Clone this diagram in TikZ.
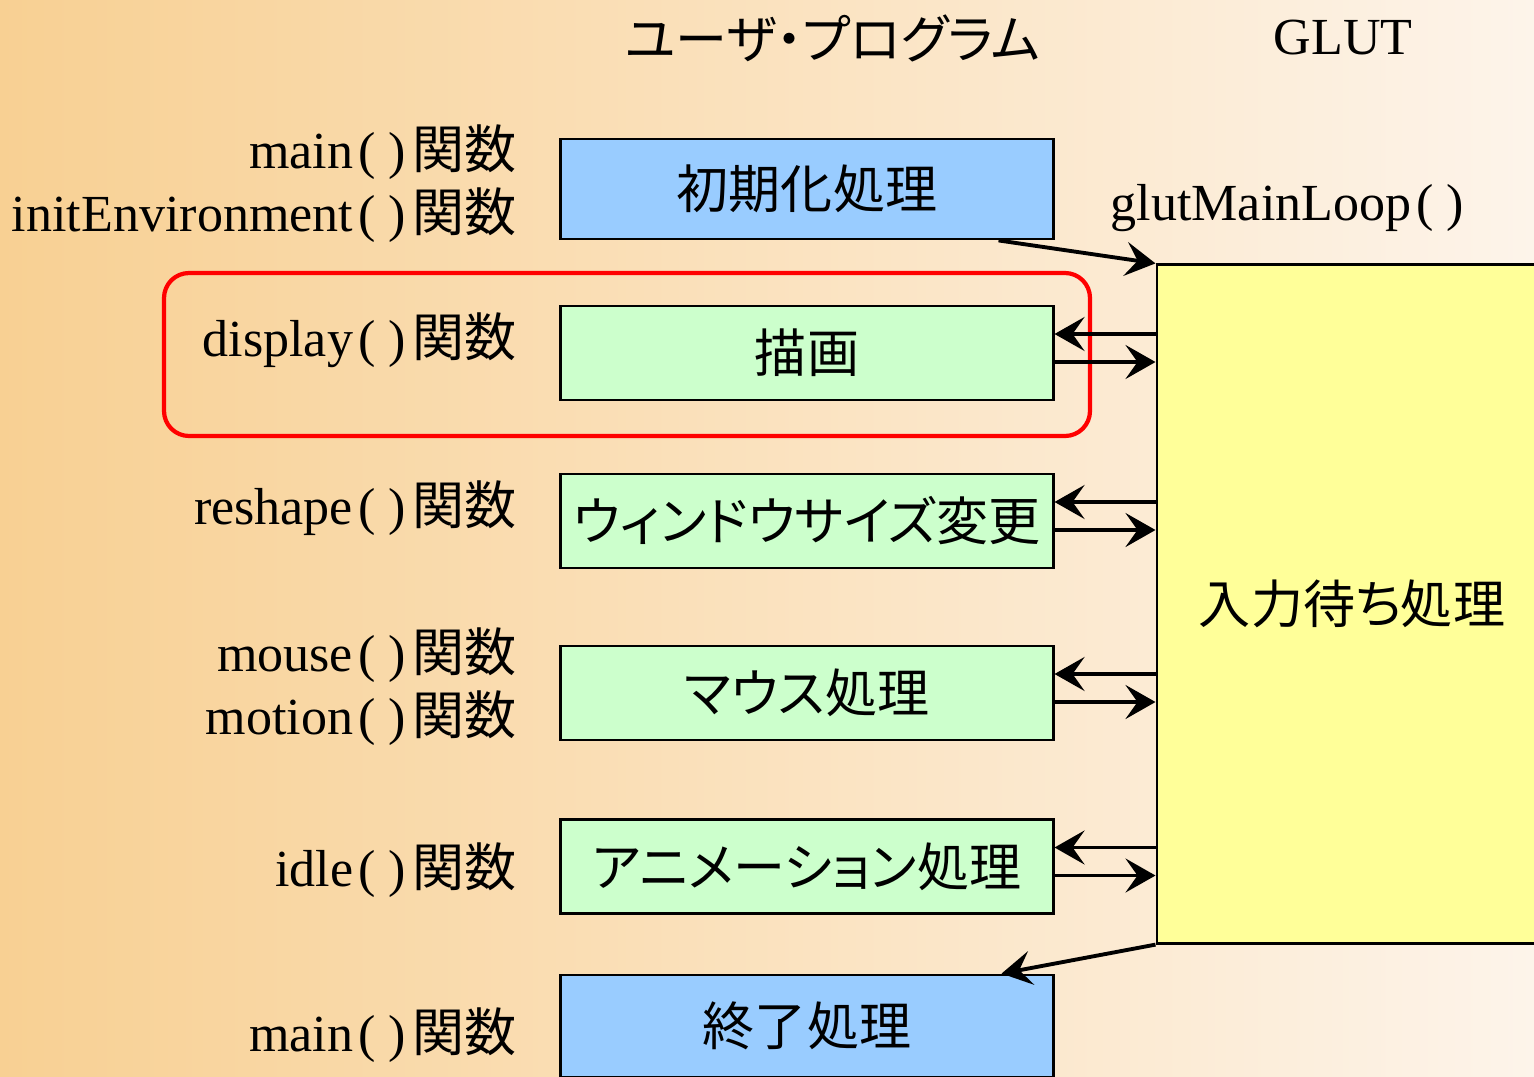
\documentclass[tikz,border=0pt]{standalone}
\usepackage{fontspec}
\setmainfont{Liberation Serif}
\newfontfamily\jp{Noto Sans CJK JP}
\newfontfamily\jpprop[RawFeature=+palt]{Noto Sans CJK JP}
\usepackage{tikz}
\usetikzlibrary{calc,arrows.meta}
\definecolor{bgleft}{RGB}{248,208,147}
\definecolor{bgright}{RGB}{253,244,234}
\definecolor{initblue}{RGB}{153,204,255}
\definecolor{cbgreen}{RGB}{204,255,204}
\definecolor{waityellow}{RGB}{255,255,153}
\newcommand{\funcname}[1]{#1\kern0.1em(\kern0.25em)\kern0.12em{\jp 関数}}
\tikzset{
    procbox/.style={draw, line width=0.8pt, minimum width=4.92cm, minimum height=0.94cm, inner sep=0pt,
        font=\fontsize{14.8}{18}\selectfont\jpprop},
    funclabel/.style={anchor=base east, inner sep=0pt},
    flow/.style={-{Stealth[length=0.3cm, width=0.34cm, inset=0.12cm]}, line width=0.9pt},
    focus/.style={draw=red, line width=1.2pt, rounded corners=0.25cm}
}
\begin{document}
\begin{tikzpicture}[x=0.01cm, y=-0.01cm, font=\fontsize{14.8}{18}\selectfont]
            % background
            \useasboundingbox (0, 0) rectangle (1534, 1076);
            \shade [left color=bgleft, right color=bgright] (0, 0) rectangle (1534, 1076);
            % headings
            \node (user) at (833, 38) {\jpprop ユーザ・プログラム};
            \node (glut) at (1343, 38) {GLUT};
            \node (mainloop) [anchor=base west, inner sep=0pt] at (1110, 220) {glutMainLoop\kern0.1em(\kern0.25em)};
            % glut side
            \node (wait) [procbox, fill=waityellow, minimum width=3.9cm, minimum height=6.78cm] at (1352, 604) {入力待ち処理};
            % user side
            \node (init) [procbox, fill=initblue, minimum height=1cm] at (807, 189) {初期化処理};
            \node (draw) [procbox, fill=cbgreen] at (807, 353) {描画};
            \node (resize) [procbox, fill=cbgreen] at (807, 521) {ウィンドウサイズ変更};
            \node (mouse) [procbox, fill=cbgreen] at (807, 693) {マウス処理};
            \node (anim) [procbox, fill=cbgreen] at (807, 866.5) {アニメーション処理};
            \node (quit) [procbox, fill=initblue, minimum height=1.02cm] at (807, 1026) {終了処理};
            % function names
            \node (lmain) [funclabel] at (517, 169) {\funcname{main}};
            \node (lenv) [funclabel] at (517, 231) {\funcname{initEnvironment}};
            \node (ldisplay) [funclabel] at (517, 356) {\funcname{display}};
            \node (lreshape) [funclabel] at (517, 524) {\funcname{reshape}};
            \node (lmouse) [funclabel] at (517, 671) {\funcname{mouse}};
            \node (lmotion) [funclabel] at (517, 734) {\funcname{motion}};
            \node (lidle) [funclabel] at (517, 886) {\funcname{idle}};
            \node (lend) [funclabel] at (517, 1051) {\funcname{main}};
            % highlight
            \draw [focus] (164, 273) rectangle (1090, 436);
            % calls
            \draw [flow, line width=1.1pt] ([xshift=-0.56cm]init.south east) -- (wait.north west);
            \foreach \b in {draw, resize, mouse, anim} {
                \draw [flow] ([yshift=0.19cm]\b.east -| wait.west) -- ([yshift=0.19cm]\b.east);
                \draw [flow] ([yshift=-0.09cm]\b.east) -- ([yshift=-0.09cm]\b.east -| wait.west);
            }
            \draw [flow, line width=1.1pt] (wait.south west) -- ([xshift=-0.53cm]quit.north east);
        \end{tikzpicture}
\end{document}
